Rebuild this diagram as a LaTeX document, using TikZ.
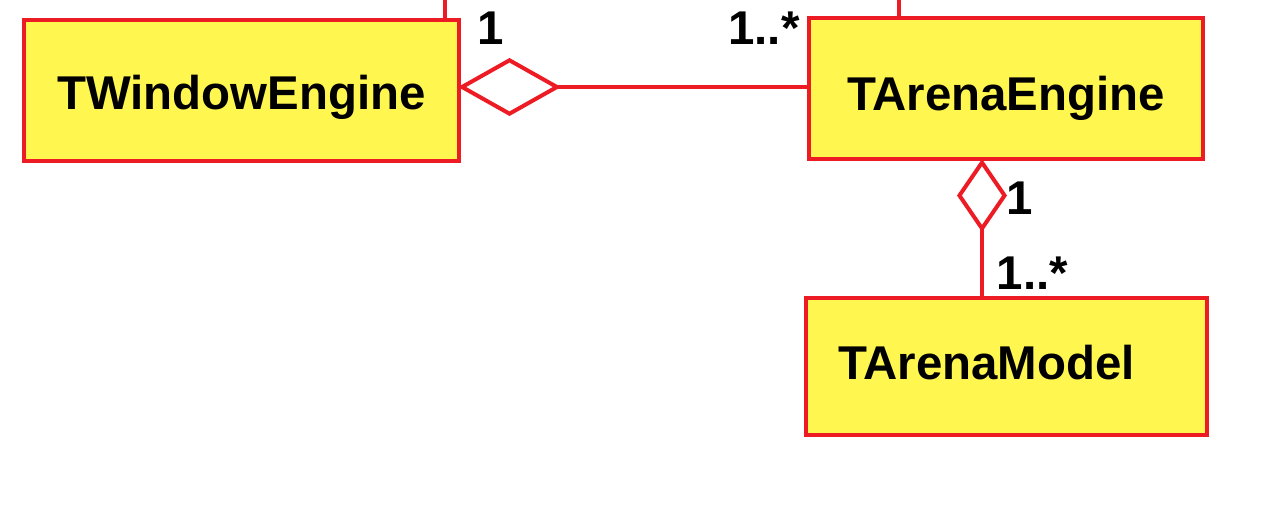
\documentclass[tikz,border=0pt]{standalone}
\usepackage{fontspec}
\setmainfont{Liberation Sans}
\usepackage{tikz}
\usetikzlibrary{arrows.meta, positioning}
\definecolor{umlred}{RGB}{237,28,36}
\definecolor{umlyellow}{RGB}{255,246,80}
\tikzstyle{classbox} = [rectangle, draw=umlred, line width=4pt, fill=umlyellow, inner sep=0pt, text depth=0pt, font=\fontsize{47.4}{56}\bfseries\selectfont]
\tikzstyle{assoc} = [draw=umlred, line width=4pt]
\tikzstyle{mult} = [inner sep=0pt, anchor=base, font=\fontsize{47.4}{56}\bfseries\selectfont]

\begin{document}
\begin{tikzpicture}[x=1pt, y=-1pt]
    \useasboundingbox (0,0) rectangle (1261,521);

    % Classes
    \node (win) [classbox, minimum width=435pt, minimum height=141pt, text height=39pt] at (241.5,90.5) {TWindowEngine};
    \node (eng) [classbox, minimum width=394pt, minimum height=141pt, text height=45pt] at (1006,88.5) {TArenaEngine};
    \node (model) [classbox, minimum width=401pt, minimum height=137pt, text height=25pt, inner xsep=32pt, text width=337pt, align=left] at (1006.5,366.5) {TArenaModel};

    % Lines leaving the picture
    \coordinate (winup) at (445,0);
    \coordinate (engup) at (899,0);
    \coordinate (aggx) at (982,0);
    \coordinate (aggy) at (0,87);
    \draw [assoc] (win.north -| winup) -- (winup);
    \draw [assoc] (eng.north -| engup) -- (engup);

    % Aggregations
    \draw [assoc, {Diamond[open, length=103pt, width=58pt, sep=-3pt]}-] (win.east |- aggy) -- (eng.west |- aggy);
    \draw [assoc, {Diamond[open, length=73pt, width=50pt, sep=-2pt]}-] (eng.south -| aggx) -- (model.north -| aggx);

    % Multiplicities
    \node (m1) [mult] at (491,45) {1};
    \node (m2) [mult] at (764,45) {1..*};
    \node (m3) [mult] at (1019.5,215) {1};
    \node (m4) [mult] at (1032.5,290) {1..*};
\end{tikzpicture}
\end{document}
